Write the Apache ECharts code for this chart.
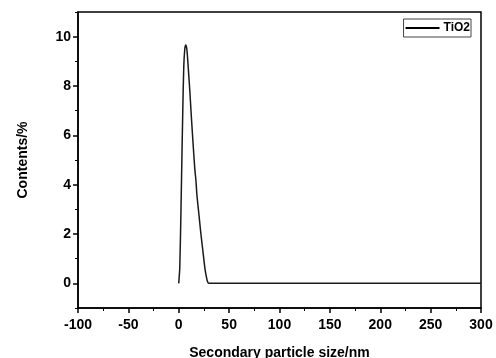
<!DOCTYPE html>
<html>
<head>
<meta charset="utf-8">
<script src="https://cdn.jsdelivr.net/npm/echarts@6/dist/echarts.min.js"></script>
<style>
  html, body { margin: 0; padding: 0; background: #fff; }
  #chart { width: 496px; height: 358px; }
</style>
</head>
<body>
<div id="chart"></div>
<script>
// particle size (nm) and content (%)
var sizes = [0, 0.5, 1, 2, 3, 4, 5, 6, 7, 8, 9, 10, 11, 12, 14, 16, 17, 18, 20, 22, 24, 26, 28, 29, 30, 40, 60, 80, 100, 150, 200, 250, 300];
var contents = [0, 0.3, 0.6, 2.5, 4.8, 7.0, 8.8, 9.5, 9.66, 9.5, 9.0, 8.4, 7.8, 7.1, 5.8, 4.6, 4.2, 3.6, 2.8, 2.0, 1.3, 0.6, 0.15, 0.03, 0, 0, 0, 0, 0, 0, 0, 0, 0];
var seriesName = "TiO2";
var yMajor = [0, 2, 4, 6, 8, 10];
var yMinor = [-1, 1, 3, 5, 7, 9, 11];

var points = [];
for (var i = 0; i < sizes.length; i++) {
  points.push([sizes[i], contents[i]]);
}

var chart = echarts.init(document.getElementById("chart"));
var font = "Liberation Sans, Arial, sans-serif";
var boldText = { fontFamily: font, fontWeight: "bold", fontSize: 14, color: "#000" };

var option = {
  backgroundColor: "#fff",
  animation: false,
  grid: {
    left: 78,
    right: 15,
    top: 12,
    bottom: 50,
    show: true,
    borderColor: "#000",
    borderWidth: 1.5,
    outerBoundsMode: "none",
    containLabel: false
  },
  legend: {
    data: [seriesName],
    right: 25,
    top: 19,
    orient: "vertical",
    borderColor: "#444",
    borderWidth: 1,
    borderRadius: 0,
    padding: [3, 1, 3, 2],
    itemWidth: 34,
    itemHeight: 2,
    icon: "rect",
    itemStyle: { color: "#000" },
    textStyle: { fontFamily: font, fontWeight: "bold", fontSize: 12, color: "#000", padding: [0, 0, 0, -1] }
  },
  xAxis: {
    type: "value",
    min: -100,
    max: 300,
    interval: 50,
    name: "Secondary particle size/nm",
    nameLocation: "middle",
    nameGap: 38,
    nameTextStyle: boldText,
    axisLine: { show: true, onZero: false, lineStyle: { color: "#000", width: 1.5 } },
    axisTick: { show: true, inside: false, length: 5, lineStyle: { color: "#000", width: 1.5 } },
    minorTick: { show: true, splitNumber: 2, length: 3, lineStyle: { color: "#000", width: 1 } },
    axisLabel: Object.assign({ margin: 10 }, boldText),
    splitLine: { show: false }
  },
  yAxis: [{
    type: "value",
    min: -1,
    max: 11,
    name: "Contents/%",
    nameLocation: "middle",
    nameGap: 48,
    nameTextStyle: boldText,
    axisLine: { show: true, onZero: false, lineStyle: { color: "#000", width: 1.5 } },
    axisTick: { show: true, inside: false, length: 5, customValues: yMajor, lineStyle: { color: "#000", width: 1.5 } },
    axisLabel: Object.assign({ margin: 7, customValues: yMajor }, boldText),
    splitLine: { show: false }
  }, {
    // 次刻度
    type: "value",
    min: -1,
    max: 11,
    position: "left",
    axisLine: { show: false, onZero: false },
    axisTick: { show: true, inside: false, length: 3, customValues: yMinor, lineStyle: { color: "#000", width: 1 } },
    axisLabel: { show: false },
    splitLine: { show: false }
  }],
  series: [{
    name: seriesName,
    type: "line",
    data: points,
    smooth: 0.3,
    symbol: "none",
    lineStyle: { color: "#1a1a1a", width: 1.5 },
    itemStyle: { color: "#000" }
  }]
};

chart.setOption(option);
</script>
</body>
</html>
